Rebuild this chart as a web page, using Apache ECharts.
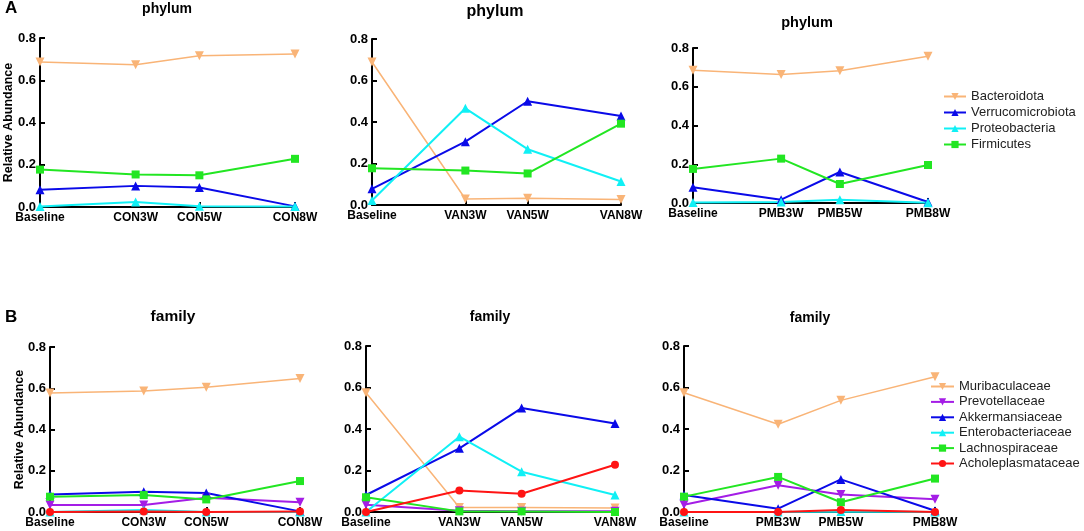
<!DOCTYPE html>
<html>
<head>
<meta charset="utf-8">
<script src="https://cdn.jsdelivr.net/npm/echarts@6/dist/echarts.min.js"></script>
<style>
    html, body { margin: 0; padding: 0; background: #fff; }
    #main { width: 1084px; height: 531px; }
</style>
</head>
<body>
<div id="main"></div>
<script>
// weeks used as x positions (Baseline = 0)
var weeks = [0, 3, 5, 8];
var conLabels = ['Baseline', 'CON3W', 'CON5W', 'CON8W'];
var vanLabels = ['Baseline', 'VAN3W', 'VAN5W', 'VAN8W'];
var pmbLabels = ['Baseline', 'PMB3W', 'PMB5W', 'PMB8W'];
var yTicks = [0, 0.2, 0.4, 0.6, 0.8];

var phylumNames = ['Bacteroidota', 'Verrucomicrobiota', 'Proteobacteria', 'Firmicutes'];
var familyNames = ['Muribaculaceae', 'Prevotellaceae', 'Akkermansiaceae', 'Enterobacteriaceae', 'Lachnospiraceae', 'Acholeplasmataceae'];

// phylum, CON / VAN / PMB
var bacteroidotaCon = [0.686, 0.673, 0.716, 0.724];
var verrucoCon = [0.082, 0.100, 0.092, 0.003];
var proteoCon = [0.002, 0.024, 0.003, 0.002];
var firmicutesCon = [0.177, 0.154, 0.150, 0.228];

var bacteroidotaVan = [0.689, 0.029, 0.032, 0.026];
var verrucoVan = [0.078, 0.305, 0.500, 0.429];
var proteoVan = [0.022, 0.466, 0.269, 0.113];
var firmicutesVan = [0.177, 0.166, 0.152, 0.392];

var bacteroidotaPmb = [0.685, 0.663, 0.682, 0.757];
var verrucoPmb = [0.081, 0.017, 0.160, 0.005];
var proteoPmb = [0.003, 0.005, 0.017, 0.001];
var firmicutesPmb = [0.176, 0.229, 0.098, 0.196];

// family, CON / VAN / PMB
var muriCon = [0.577, 0.587, 0.605, 0.647];
var prevoCon = [0.034, 0.034, 0.069, 0.047];
var akkCon = [0.085, 0.098, 0.092, 0.003];
var enteroCon = [0.000, 0.010, 0.000, 0.000];
var lachnoCon = [0.074, 0.082, 0.061, 0.150];
var acholeCon = [0.000, 0.002, 0.000, 0.003];

var muriVan = [0.575, 0.022, 0.022, 0.019];
var prevoVan = [0.035, 0.006, 0.004, 0.004];
var akkVan = [0.082, 0.307, 0.501, 0.427];
var enteroVan = [0.000, 0.363, 0.194, 0.082];
var lachnoVan = [0.071, 0.003, 0.003, 0.000];
var acholeVan = [0.000, 0.104, 0.088, 0.228];

var muriPmb = [0.575, 0.423, 0.538, 0.652];
var prevoPmb = [0.035, 0.129, 0.084, 0.061];
var akkPmb = [0.082, 0.016, 0.157, 0.006];
var enteroPmb = [0.000, 0.000, 0.003, 0.000];
var lachnoPmb = [0.074, 0.169, 0.047, 0.161];
var acholePmb = [0.000, 0.000, 0.010, 0.000];

var orange = '#F9B477', blue = '#0A0AE8', cyan = '#10F0F5', green = '#22E622', purple = '#A41DE6', red = '#FF1414';
var font = 'Liberation Sans, Arial, sans-serif';

// style per series name: color, symbol, rotation, size, line width
var styles = {
    Bacteroidota: [orange, 'triangle', 180, 9, 1.5],
    Verrucomicrobiota: [blue, 'triangle', 0, 9, 2],
    Proteobacteria: [cyan, 'triangle', 0, 9, 2],
    Firmicutes: [green, 'rect', 0, 8, 2],
    Muribaculaceae: [orange, 'triangle', 180, 9, 1.5],
    Prevotellaceae: [purple, 'triangle', 180, 9, 2],
    Akkermansiaceae: [blue, 'triangle', 0, 9, 2],
    Enterobacteriaceae: [cyan, 'triangle', 0, 9, 2],
    Lachnospiraceae: [green, 'rect', 0, 8, 2],
    Acholeplasmataceae: [red, 'circle', 0, 8, 2]
};

// grid rectangles in pixels
var grids = [
    { left: 40, top: 38, width: 255, height: 169 },
    { left: 372, top: 39, width: 249, height: 166 },
    { left: 693, top: 48, width: 235, height: 155 },
    { left: 50, top: 347, width: 250, height: 165 },
    { left: 366, top: 346, width: 249, height: 166 },
    { left: 684, top: 346, width: 251, height: 166 }
];
grids.forEach(function (g) { g.outerBoundsMode = 'none'; });
var xLabels = [conLabels, vanLabels, pmbLabels, conLabels, vanLabels, pmbLabels];

var panels = [
    [bacteroidotaCon, verrucoCon, proteoCon, firmicutesCon],
    [bacteroidotaVan, verrucoVan, proteoVan, firmicutesVan],
    [bacteroidotaPmb, verrucoPmb, proteoPmb, firmicutesPmb],
    [muriCon, prevoCon, akkCon, enteroCon, lachnoCon, acholeCon],
    [muriVan, prevoVan, akkVan, enteroVan, lachnoVan, acholeVan],
    [muriPmb, prevoPmb, akkPmb, enteroPmb, lachnoPmb, acholePmb]
];

var xAxis = [], yAxis = [], series = [];
grids.forEach(function (g, i) {
    let labels = xLabels[i];
    xAxis.push({
        type: 'value', gridIndex: i, min: 0, max: 8,
        axisLine: { lineStyle: { color: '#000', width: 2 } },
        axisTick: { inside: true, length: 5, customValues: weeks.slice(1), lineStyle: { color: '#000', width: 2 } },
        axisLabel: {
            customValues: weeks, margin: 5,
            formatter: function (v) { return labels[weeks.indexOf(v)] || ''; },
            color: '#000', fontWeight: 'bold', fontSize: 12, fontFamily: font
        },
        splitLine: { show: false }
    });
    yAxis.push({
        type: 'value', gridIndex: i, min: 0, max: 0.8, interval: 0.2,
        name: (i == 0 || i == 3) ? 'Relative Abundance' : '',
        nameLocation: 'middle', nameGap: i == 0 ? 25 : 24, nameMoveOverlap: false,
        nameTextStyle: { color: '#000', fontWeight: 'bold', fontSize: 12.5, fontFamily: font },
        axisLine: { show: true, lineStyle: { color: '#000', width: 2 } },
        axisTick: { show: true, inside: true, length: 5, lineStyle: { color: '#000', width: 2 } },
        axisLabel: {
            margin: 4, color: '#000', fontWeight: 'bold', fontSize: 13, fontFamily: font,
            customValues: yTicks,
            formatter: function (v) { return v.toFixed(1); }
        },
        splitLine: { show: false }
    });
    let names = i < 3 ? phylumNames : familyNames;
    panels[i].forEach(function (vals, k) {
        let st = styles[names[k]];
        series.push({
            name: names[k], type: 'line', xAxisIndex: i, yAxisIndex: i,
            data: weeks.map(function (w, j) { return [w, vals[j]]; }),
            symbol: st[1], symbolRotate: st[2], symbolSize: st[3],
            lineStyle: { color: st[0], width: st[4] },
            itemStyle: { color: st[0] },
            animation: false
        });
    });
});

// 标题
var titles = [
    { text: 'A', left: 5, top: 0, fs: 17 },
    { text: 'B', left: 5, top: 309, fs: 17 },
    { text: 'phylum', left: 167, top: 2, fs: 14, c: true },
    { text: 'phylum', left: 495, top: 4, fs: 16, c: true },
    { text: 'phylum', left: 807, top: 15, fs: 14.5, c: true },
    { text: 'family', left: 173, top: 309, fs: 15.5, c: true },
    { text: 'family', left: 490, top: 310, fs: 14, c: true },
    { text: 'family', left: 810, top: 311, fs: 14, c: true }
].map(function (t) {
    return {
        text: t.text, left: t.left, top: t.top, padding: 0,
        textAlign: t.c ? 'center' : 'left',
        textStyle: { color: '#000', fontWeight: 'bold', fontSize: t.fs, fontFamily: font }
    };
});

var myChart = echarts.init(document.getElementById('main'));
var option = {
    backgroundColor: '#fff',
    title: titles,
    grid: grids,
    xAxis: xAxis,
    yAxis: yAxis,
    legend: [{
        data: phylumNames, orient: 'vertical', left: 943, top: 90, padding: 0,
        itemWidth: 22, itemHeight: 9, itemGap: 3,
        textStyle: { color: '#222', fontSize: 13, fontFamily: font }
    }, {
        data: familyNames, orient: 'vertical', left: 930, top: 380, padding: 0,
        itemWidth: 23, itemHeight: 9, itemGap: 2.4,
        textStyle: { color: '#222', fontSize: 13, fontFamily: font }
    }],
    series: series
};
myChart.setOption(option);
</script>
</body>
</html>
